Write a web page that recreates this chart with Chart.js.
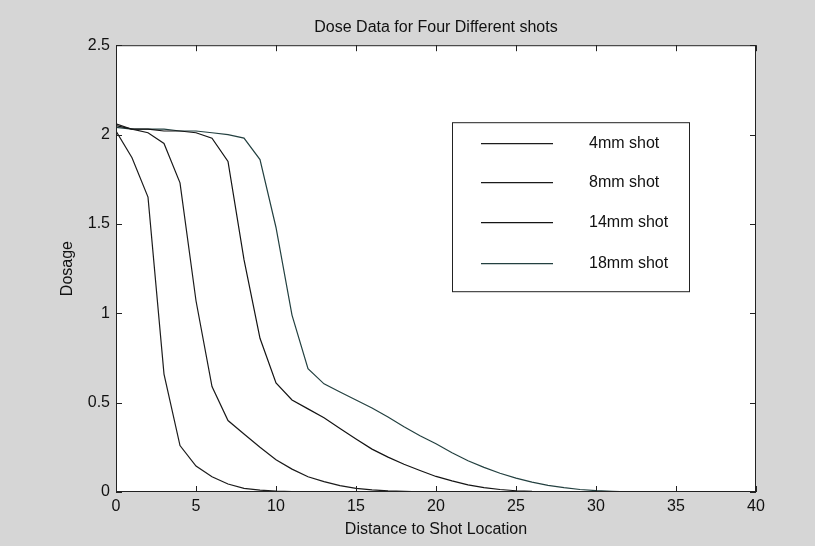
<!DOCTYPE html>
<html>
<head>
<meta charset="utf-8">
<script src="https://cdn.jsdelivr.net/npm/chart.js@4/dist/chart.umd.min.js"></script>
<style>
  html, body { margin: 0; padding: 0; background: #d6d6d6; }
  #wrap { width: 815px; height: 546px; }
</style>
</head>
<body>
<div id="wrap"><canvas id="dose"></canvas></div>
<script>
// distance to shot location (one reading per unit)
const distance = [];
for (let i = 0; i <= 40; i++) distance.push(i)

const seriesNames = ['4mm shot', '8mm shot', '14mm shot', '18mm shot']

const dose4 = [2.02, 1.87, 1.65, 0.66, 0.26, 0.145, 0.085, 0.045, 0.02, 0.01, 0.005, 0.002, 0, 0, 0, 0, 0]
const dose8 = [2.06, 2.03, 2.01, 1.95, 1.73, 1.07, 0.59, 0.40, 0.325, 0.25, 0.18, 0.128, 0.085, 0.058, 0.036,
               0.02, 0.012, 0.006, 0.003, 0.001, 0, 0, 0, 0, 0, 0]
const dose14 = [2.05, 2.03, 2.03, 2.02, 2.02, 2.01, 1.98, 1.85, 1.30, 0.86, 0.61, 0.515, 0.465, 0.415, 0.355,
                0.297, 0.24, 0.195, 0.155, 0.12, 0.087, 0.062, 0.04, 0.025, 0.014, 0.007, 0.003, 0.001,
                0, 0, 0, 0]
const dose18 = [2.04, 2.03, 2.03, 2.03, 2.02, 2.02, 2.01, 2.0, 1.98, 1.86, 1.48, 0.99, 0.69, 0.605, 0.56,
                0.515, 0.47, 0.42, 0.365, 0.315, 0.27, 0.22, 0.175, 0.138, 0.105, 0.078, 0.055, 0.037,
                0.024, 0.014, 0.008, 0.004, 0.001, 0, 0, 0, 0, 0, 0, 0, 0]

const xTicks = [0, 5, 10, 15, 20, 25, 30, 35, 40]
const yTicks = [0, 0.5, 1, 1.5, 2, 2.5]
const yTickLabels = ['0', '0.5', '1', '1.5', '2', '2.5']

const lineColors = ['#1c1c1c', '#1a1a1a', '#141414', '#234040']
const tailColors = ['#111111', '#111111', '#1c2a6a', '#3f73b8']

const FONT = '"Liberation Sans", Arial, sans-serif'

function makePoints(values) {
    return values.map((v, i) => ({x: distance[i], y: v}))
}

const allDose = [dose4, dose8, dose14, dose18]

const datasets = allDose.map((vals, k) => ({
    label: seriesNames[k],
    data: makePoints(vals),
    borderColor: lineColors[k],
    borderWidth: 1.2,
    pointRadius: 0,
    tension: 0,
    fill: false,
    segment: {
        borderColor: ctx => (ctx.p0.parsed.y === 0 && ctx.p1.parsed.y === 0) ? tailColors[k] : undefined
    }
}))

// white axes box, inward ticks on all four sides, and a boxed legend
const matlabLook = {
    id: 'matlabLook',
    beforeDraw(chart) {
        const {ctx, chartArea: a} = chart
        ctx.save()
        ctx.fillStyle = '#d6d6d6'
        ctx.fillRect(0, 0, chart.width, chart.height)
        ctx.fillStyle = '#ffffff'
        ctx.fillRect(a.left, a.top, a.right - a.left, a.bottom - a.top)
        ctx.restore()
    },
    afterDraw(chart) {
        const {ctx, chartArea: a, scales} = chart
        const len = 6
        ctx.save()
        ctx.strokeStyle = '#222'
        ctx.lineWidth = 1
        ctx.strokeRect(a.left + 0.5, a.top + 0.5, a.right - a.left - 1, a.bottom - a.top - 1)
        ctx.beginPath()
        xTicks.forEach(t => {
            const px = Math.round(scales.x.getPixelForValue(t)) + 0.5
            ctx.moveTo(px, a.bottom); ctx.lineTo(px, a.bottom - len)
            ctx.moveTo(px, a.top); ctx.lineTo(px, a.top + len)
        })
        yTicks.forEach(t => {
            const py = Math.round(scales.y.getPixelForValue(t)) + 0.5
            ctx.moveTo(a.left, py); ctx.lineTo(a.left + len, py)
            ctx.moveTo(a.right, py); ctx.lineTo(a.right - len, py)
        })
        ctx.stroke()

        // legend box
        const bx = a.left + 336, by = a.top + 77, bw = 237, bh = 169
        ctx.fillStyle = '#ffffff'
        ctx.fillRect(bx, by, bw, bh)
        ctx.strokeStyle = '#222'
        ctx.strokeRect(bx + 0.5, by + 0.5, bw, bh)
        const rows = [21, 60, 100, 141]
        ctx.font = '16px ' + FONT
        ctx.textBaseline = 'middle'
        ctx.textAlign = 'left'
        chart.data.datasets.forEach((ds, i) => {
            const ry = by + rows[i] + 0.5
            ctx.strokeStyle = ds.borderColor
            ctx.lineWidth = 1.2
            ctx.beginPath()
            ctx.moveTo(bx + 29, ry); ctx.lineTo(bx + 101, ry)
            ctx.stroke()
            ctx.fillStyle = '#111'
            ctx.fillText(ds.label, bx + 137, ry)
        })
        ctx.restore()
    }
}

new Chart(document.getElementById('dose'), {
    type: 'line',
    data: { datasets: datasets },
    plugins: [matlabLook],
    options: {
        responsive: true,
        maintainAspectRatio: false,
        animation: false,
        layout: { padding: { left: 0, right: 59, top: 0, bottom: 0 } },
        plugins: {
            legend: { display: false },
            tooltip: { enabled: false },
            title: {
                display: true,
                fullSize: false,
                text: 'Dose Data for Four Different shots',
                color: '#111',
                font: { family: FONT, size: 16, weight: 'normal' },
                padding: { top: 18, bottom: 8 }
            }
        },
        scales: {
            x: {
                type: 'linear',
                min: 0, max: 40,
                afterBuildTicks: s => { s.ticks = xTicks.map(v => ({value: v})) },
                afterFit: s => { s.height = 54 },
                grid: { display: false, drawTicks: false },
                border: { display: false },
                ticks: { color: '#111', font: { family: FONT, size: 16 }, padding: 5, maxRotation: 0 },
                title: {
                    display: true, text: 'Distance to Shot Location', color: '#111',
                    font: { family: FONT, size: 16 }, padding: { top: 0, bottom: 7 }
                }
            },
            y: {
                min: 0, max: 2.5,
                afterBuildTicks: s => { s.ticks = yTicks.map(v => ({value: v})) },
                afterFit: s => { s.width = 116 },
                grid: { display: false, drawTicks: false },
                border: { display: false },
                ticks: {
                    color: '#111', font: { family: FONT, size: 16 }, padding: 6,
                    callback: (v, i) => yTickLabels[i]
                },
                title: {
                    display: true, text: 'Dosage', color: '#111',
                    font: { family: FONT, size: 16 }, padding: { top: 58, bottom: 0 }
                }
            }
        }
    }
});
</script>
</body>
</html>
